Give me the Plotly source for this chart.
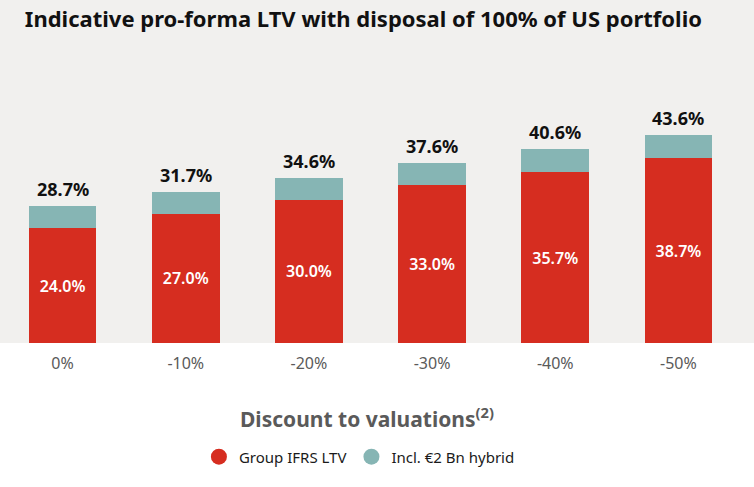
import plotly.graph_objects as go

categories = ["0%", "-10%", "-20%", "-30%", "-40%", "-50%"]
group_ifrs_ltv = [24.0, 27.0, 30.0, 33.0, 35.7, 38.7]
incl_hybrid_total = [28.7, 31.7, 34.6, 37.6, 40.6, 43.6]
hybrid_increment = [round(t - g, 1) for t, g in zip(incl_hybrid_total, group_ifrs_ltv)]

RED = "#d62d20"
TEAL = "#86b5b4"
FONT = "Noto Sans"

fig = go.Figure()
fig.add_trace(go.Bar(
    x=categories, y=group_ifrs_ltv, marker=dict(color=RED, line=dict(width=0)),
    text=[f"{v:.1f}%" for v in group_ifrs_ltv], textposition="inside",
    insidetextanchor="middle", textangle=0,
    textfont=dict(color="white", size=16, family=FONT, weight=600),
    showlegend=False, hoverinfo="skip"))
fig.add_trace(go.Bar(
    x=categories, y=hybrid_increment, marker=dict(color=TEAL, line=dict(width=0)),
    showlegend=False, hoverinfo="skip"))

# legend proxies with circle markers
fig.add_trace(go.Scatter(x=[None], y=[None], mode="markers", name="Group IFRS LTV",
                         marker=dict(color=RED, size=17, symbol="circle")))
fig.add_trace(go.Scatter(x=[None], y=[None], mode="markers", name="Incl. €2 Bn hybrid",
                         marker=dict(color=TEAL, size=17, symbol="circle")))

for c, t in zip(categories, incl_hybrid_total):
    fig.add_annotation(x=c, y=t, text=f"<b>{t:.1f}%</b>", showarrow=False,
                       yanchor="bottom", yshift=3,
                       font=dict(size=18, color="#111111", family=FONT))

fig.add_annotation(xref="paper", yref="paper", x=0.495, y=-0.2475,
                   text="<b>Discount to valuations<sup>(2)</sup></b>", showarrow=False,
                   xanchor="center", yanchor="middle",
                   font=dict(size=21, color="#5a5a5a", family=FONT))

fig.add_shape(type="rect", xref="paper", yref="paper", x0=-0.01, x1=1.05, y0=0, y1=1.2,
              fillcolor="#f1f0ee", line=dict(width=0), layer="below")

fig.update_layout(
    width=754, height=487,
    margin=dict(l=1, r=14, t=40, b=144, autoexpand=False),
    barmode="stack", bargap=0.45,
    paper_bgcolor="white", plot_bgcolor="rgba(0,0,0,0)",
    title=dict(text="<b>Indicative pro-forma LTV with disposal of 100% of US portfolio</b>",
               x=0.482, xanchor="center", y=0.96, yanchor="middle",
               font=dict(size=22, color="#111111", family=FONT)),
    xaxis=dict(showgrid=False, showline=False, zeroline=False, ticks="",
               ticklabelstandoff=9,
               tickfont=dict(size=16, color="#5a5a5a", family=FONT)),
    yaxis=dict(visible=False, range=[0, 63.4]),
    legend=dict(orientation="h", x=0.485, xanchor="center", y=-0.376, yanchor="middle",
                traceorder="normal",
                font=dict(size=15, color="#1a1a1a", family=FONT), bgcolor="rgba(0,0,0,0)"),
)

fig.write_html("out.html", config={"displayModeBar": False},
               post_script="document.body.style.margin='0px';")
